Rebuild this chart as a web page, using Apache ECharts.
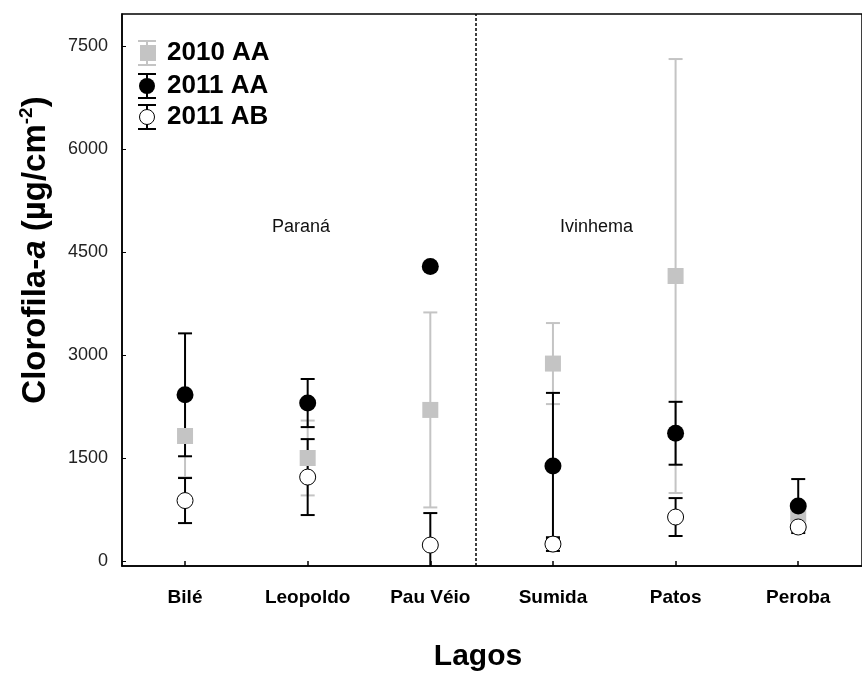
<!DOCTYPE html>
<html>
<head>
<meta charset="utf-8">
<script src="https://cdn.jsdelivr.net/npm/echarts@6/dist/echarts.min.js"></script>
<style>
  html, body { margin: 0; padding: 0; background: #fff; }
  #chart { width: 862px; height: 677px; }
</style>
</head>
<body>
<div id="chart"></div>
<script>
// Lakes sampled (Paraná: first three, Ivinhema: last three)
const lakes = ['Bilé', 'Leopoldo', 'Pau Véio', 'Sumida', 'Patos', 'Peroba'];

// Chlorophyll-a means and error half-widths (µg/cm²)
const mean2010AA = [1820, 1500, 2200, 2875, 4150, 680];
const err2010AA  = [600, 545, 1420, 590, 3160, 150];

const mean2011AA = [2420, 2300, 4290, 1385, 1860, 800];
const err2011AA  = [895, 350, 0, 1063, 458, 393];

const mean2011AB = [880, 1222, 232, 246, 640, 495];
const err2011AB  = [328, 553, 466, 100, 276, 50];

const yTicks = [0, 1500, 3000, 4500, 6000, 7500];
const seriesNames = ['2010 AA', '2011 AA', '2011 AB'];
const regionNames = ['Paraná', 'Ivinhema'];

const FONT = 'Liberation Sans, Arial, sans-serif';
const chart = echarts.init(document.getElementById('chart'));

function errorSeries(means, errs, color, width) {
  return {
    type: 'custom',
    clip: true,
    z: 2,
    data: means.map((m, i) => [i, m - errs[i], m + errs[i]]),
    renderItem: function (params, api) {
      const lo = api.value(1), hi = api.value(2);
      if (hi - lo <= 0) return null;
      const x = api.value(0);
      const pLo = api.coord([x, lo]);
      const pHi = api.coord([x, hi]);
      const half = 7;
      const style = { stroke: color, lineWidth: width };
      return {
        type: 'group',
        children: [
          { type: 'line', shape: { x1: pLo[0], y1: pLo[1], x2: pHi[0], y2: pHi[1] }, style: style },
          { type: 'line', shape: { x1: pLo[0] - half, y1: pLo[1], x2: pLo[0] + half, y2: pLo[1] }, style: style },
          { type: 'line', shape: { x1: pHi[0] - half, y1: pHi[1], x2: pHi[0] + half, y2: pHi[1] }, style: style }
        ]
      };
    }
  };
}

function pointSeries(name, means, symbol, size, itemStyle, z) {
  return {
    name: name,
    type: 'scatter',
    symbol: symbol,
    symbolSize: size,
    itemStyle: itemStyle,
    z: z,
    data: means.map((m, i) => [i, m])
  };
}

// Legend drawn as small error-bar glyphs beside bold labels
function legendGlyph(cy, color, lw, marker) {
  return [
    { type: 'line', shape: { x1: 147, y1: cy - 12, x2: 147, y2: cy + 12 }, style: { stroke: color, lineWidth: lw } },
    { type: 'line', shape: { x1: 138, y1: cy - 12, x2: 156, y2: cy - 12 }, style: { stroke: color, lineWidth: lw } },
    { type: 'line', shape: { x1: 138, y1: cy + 12, x2: 156, y2: cy + 12 }, style: { stroke: color, lineWidth: lw } },
    marker
  ];
}

const legendItems = [].concat(
  legendGlyph(53, '#c4c4c4', 2, { type: 'rect', shape: { x: 140, y: 45, width: 16, height: 16 }, style: { fill: '#c4c4c4' } }),
  legendGlyph(86, '#000', 2, { type: 'circle', shape: { cx: 147, cy: 86, r: 8 }, style: { fill: '#000' } }),
  legendGlyph(117, '#000', 2, { type: 'circle', shape: { cx: 147, cy: 117, r: 7.5 }, style: { fill: '#fff', stroke: '#000', lineWidth: 1 } }),
  seriesNames.map((t, k) => ({
    type: 'text', left: 167, top: [40, 73, 104][k],
    style: { text: t, font: 'bold 26px ' + FONT, fill: '#000' }
  }))
);

// Rotated y-axis title with italic "a" and superscript exponent
const yTitle = {
  type: 'text',
  x: 36, y: 250,
  rotation: Math.PI / 2,
  style: {
    text: '{b|Clorofila-}{i|a}{b| (µg/cm}{s|-2}{b|)}',
    align: 'center',
    verticalAlign: 'middle',
    rich: {
      b: { fontFamily: FONT, fontWeight: 'bold', fontSize: 33, fill: '#000', lineHeight: 38 },
      i: { fontFamily: FONT, fontWeight: 'bold', fontStyle: 'italic', fontSize: 33, fill: '#000', lineHeight: 38 },
      s: { fontFamily: FONT, fontWeight: 'bold', fontSize: 19, fill: '#000', verticalAlign: 'top', lineHeight: 38, padding: [0, 0, 16, 0] }
    }
  }
};

chart.setOption({
  animation: false,
  backgroundColor: '#fff',
  grid: {
    left: 122, right: -12, top: 14, bottom: 108,
    show: true, borderColor: '#000', borderWidth: 1.5
  },
  xAxis: {
    type: 'value',
    min: -0.514,
    max: 5.52,
    axisLine: { onZero: false, lineStyle: { color: '#000', width: 1.5 } },
    splitLine: { show: false },
    axisTick: { inside: true, length: 5, lineStyle: { color: '#000', width: 1.5 }, customValues: lakes.map((_, i) => i) },
    axisLabel: {
      customValues: lakes.map((_, i) => i),
      formatter: v => lakes[Math.round(v)],
      margin: 22,
      fontFamily: FONT,
      fontWeight: 'bold',
      fontSize: 19,
      color: '#000'
    },
    name: 'Lagos',
    nameLocation: 'middle',
    nameGap: 76,
    nameTextStyle: { fontFamily: FONT, fontWeight: 'bold', fontSize: 30, color: '#000', padding: [0, 0, 0, -28] }
  },
  yAxis: {
    type: 'value',
    min: -73,
    max: 7966,
    axisLine: { show: true, onZero: false, lineStyle: { color: '#000', width: 1.5 } },
    splitLine: { show: false },
    axisTick: { show: true, inside: true, length: 4, lineStyle: { color: '#000', width: 1 }, customValues: yTicks },
    axisLabel: { customValues: yTicks, formatter: v => String(v), margin: 14, fontFamily: FONT, fontSize: 18, color: '#222' }
  },
  graphic: legendItems.concat([
    yTitle,
    { type: 'text', left: 272, top: 218, style: { text: regionNames[0], font: '18px ' + FONT, fill: '#111' } },
    { type: 'text', left: 560, top: 218, style: { text: regionNames[1], font: '18px ' + FONT, fill: '#111' } }
  ]),
  series: [
    errorSeries(mean2010AA, err2010AA, '#c4c4c4', 2),
    errorSeries(mean2011AA, err2011AA, '#000', 2),
    errorSeries(mean2011AB, err2011AB, '#000', 2),
    pointSeries('2010 AA', mean2010AA, 'rect', 16, { color: '#c4c4c4', opacity: 1 }, 3),
    pointSeries('2011 AA', mean2011AA, 'circle', 17, { color: '#000', opacity: 1 }, 4),
    pointSeries('2011 AB', mean2011AB, 'circle', 16, { color: '#fff', borderColor: '#000', borderWidth: 1, opacity: 1 }, 5),
    {
      // divider between the Paraná and Ivinhema lakes
      type: 'line',
      data: [],
      markLine: {
        silent: true,
        symbol: 'none',
        label: { show: false },
        lineStyle: { color: '#000', type: [3, 2], width: 1.5 },
        data: [{ xAxis: 2.37 }]
      }
    }
  ]
});
</script>
</body>
</html>
